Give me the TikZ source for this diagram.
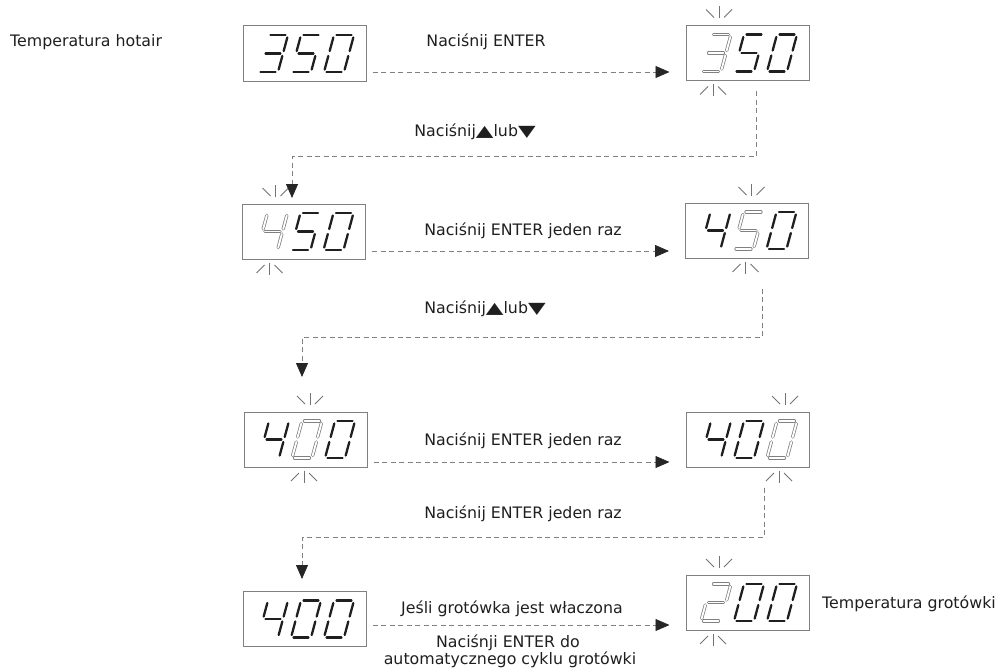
\documentclass[tikz,border=0pt]{standalone}
\usepackage{fontspec}
\usepackage{graphicx}
\setmainfont{DejaVu Sans}
\usetikzlibrary{arrows.meta}

\newcommand\segA{(2.5,37)--(17.5,37)}
\newcommand\segB{(20,34.5)--(20,21)}
\newcommand\segC{(20,16)--(20,2.5)}
\newcommand\segD{(2.5,0)--(17.5,0)}
\newcommand\segE{(0,2.5)--(0,16)}
\newcommand\segF{(0,21)--(0,34.5)}
\newcommand\segG{(2.5,18.5)--(17.5,18.5)}
\newcommand\dzero{\segA,\segB,\segC,\segD,\segE,\segF}
\newcommand\dtwo{\segA,\segB,\segG,\segE,\segD}
\newcommand\dthree{\segA,\segB,\segG,\segC,\segD}
\newcommand\dfour{\segF,\segG,\segB,\segC}
\newcommand\dfive{\segA,\segF,\segG,\segC,\segD}
\newcommand\upT{\scalebox{1.45}[1.0]{▲}}
\newcommand\dnT{\scalebox{1.45}[1.0]{▼}}

% #1 box, #2 index, #3 digit, #4 style
\newcommand\dig[4]{%
  \begin{scope}[shift={(#1.center)}, xshift={-46.5pt+33pt*#2}, yshift=-18.5pt, x=1pt, y=1pt, xslant=0.27]
    \foreach \s in #3 {\draw[#4] \s;}
  \end{scope}}

% #1 box, #2 index
\newcommand\blk[2]{%
  \begin{scope}[shift={(#1.center)}, xshift={-31.5pt+33pt*#2}]
    \draw[blinkmark] (3,-34.5) -- (3,-46.5);
    \draw[blinkmark] (-2,-35.5) -- (-10,-43.5);
    \draw[blinkmark] (8,-35.5) -- (16,-43.5);
    \draw[blinkmark] (-3,31) -- (-3,43);
    \draw[blinkmark] (-8,33.5) -- (-16,41.5);
    \draw[blinkmark] (2,33.5) -- (10,41.5);
  \end{scope}}

\tikzset{
  dispbox/.style={draw=black!50, line width=1pt, minimum width=123pt, minimum height=55pt, inner sep=0pt},
  segon/.style={draw=black!88, line width=2.3pt, line cap=round},
  segblink/.style={draw=black!50, line width=0.75pt, double=white, double distance=1.8pt, line cap=round},
  blinkmark/.style={draw=black!55, line width=0.8pt},
  conn/.style={draw=black!50, line width=0.8pt, dash pattern=on 5pt off 3.5pt},
  arr/.style={conn, -{Triangle[length=14pt,width=12pt,color=black!85]}},
  lbl/.style={font=\fontsize{15.8}{17}\selectfont, inner sep=0pt, anchor=base, text=black!88},
}

\begin{document}
\begin{tikzpicture}[x=1pt,y=-1pt]
\useasboundingbox (0,0) rectangle (1000,669);

% display boxes
\node[dispbox] (L1) at (304.5,53.5) {};
\node[dispbox] (R1) at (747.5,53) {};
\node[dispbox] (L2) at (304,231.5) {};
\node[dispbox] (R2) at (747,230.5) {};
\node[dispbox] (L3) at (305.5,439.5) {};
\node[dispbox] (R3) at (747.5,439.5) {};
\node[dispbox] (L4) at (304.5,619) {};
\node[dispbox] (R4) at (747.5,602.5) {};

% digits
\dig{L1}{0}{\dthree}{segon}\dig{L1}{1}{\dfive}{segon}\dig{L1}{2}{\dzero}{segon}
\dig{R1}{0}{\dthree}{segblink}\dig{R1}{1}{\dfive}{segon}\dig{R1}{2}{\dzero}{segon}\blk{R1}{0}
\dig{L2}{0}{\dfour}{segblink}\dig{L2}{1}{\dfive}{segon}\dig{L2}{2}{\dzero}{segon}\blk{L2}{0}
\dig{R2}{0}{\dfour}{segon}\dig{R2}{1}{\dfive}{segblink}\dig{R2}{2}{\dzero}{segon}\blk{R2}{1}
\dig{L3}{0}{\dfour}{segon}\dig{L3}{1}{\dzero}{segblink}\dig{L3}{2}{\dzero}{segon}\blk{L3}{1}
\dig{R3}{0}{\dfour}{segon}\dig{R3}{1}{\dzero}{segon}\dig{R3}{2}{\dzero}{segblink}\blk{R3}{2}
\dig{L4}{0}{\dfour}{segon}\dig{L4}{1}{\dzero}{segon}\dig{L4}{2}{\dzero}{segon}
\dig{R4}{0}{\dtwo}{segblink}\dig{R4}{1}{\dzero}{segon}\dig{R4}{2}{\dzero}{segon}\blk{R4}{0}

% horizontal arrows
\coordinate (a1) at (0,72);
\coordinate (a2) at (0,251);
\coordinate (a3) at (0,462);
\coordinate (a4) at (0,625);
\draw[arr, shorten <=6pt, shorten >=16pt] (L1.east |- a1) -- (R1.west |- a1);
\draw[arr, shorten <=6pt, shorten >=16pt] (L2.east |- a2) -- (R2.west |- a2);
\draw[arr, shorten <=6pt, shorten >=16pt] (L3.east |- a3) -- (R3.west |- a3);
\draw[arr, shorten <=6pt, shorten >=16pt] (L4.east |- a4) -- (R4.west |- a4);

% return connectors
\coordinate (c1s) at (756,91);
\coordinate (c1m) at (292,156.5);
\coordinate (c1e) at (292,198);
\draw[arr, shorten <=10pt] (R1.south -| c1s) |- (c1m) -- (c1e);
\coordinate (c2s) at (762,286);
\coordinate (c2m) at (302,337);
\coordinate (c2e) at (302,377);
\draw[arr, shorten <=30pt] (R2.south -| c2s) |- (c2m) -- (c2e);
\coordinate (c3s) at (764,486);
\coordinate (c3m) at (302,537);
\coordinate (c3e) at (302,579);
\draw[arr, shorten <=20pt] (R3.south -| c3s) |- (c3m) -- (c3e);

% labels
\node[lbl, anchor=base west] (t1) at (10,47) {Temperatura hotair};
\node[lbl] (t2) at (486,47) {Naciśnij ENTER};
\node[lbl] (t3) at (475,136) {Naciśnij\upT lub\dnT};
\node[lbl] (t4) at (523,235) {Naciśnij ENTER jeden raz};
\node[lbl] (t5) at (485,313) {Naciśnij\upT lub\dnT};
\node[lbl] (t6) at (523,445) {Naciśnij ENTER jeden raz};
\node[lbl] (t7) at (523,518) {Naciśnij ENTER jeden raz};
\node[lbl] (t8) at (512,613) {Jeśli grotówka jest właczona};
\node[lbl] (t9) at (508,647) {Naciśnji ENTER do};
\node[lbl] (t10) at (510,664) {automatycznego cyklu grotówki};
\node[lbl, anchor=base west] (t11) at (822,608) {Temperatura grotówki};
\end{tikzpicture}
\end{document}
